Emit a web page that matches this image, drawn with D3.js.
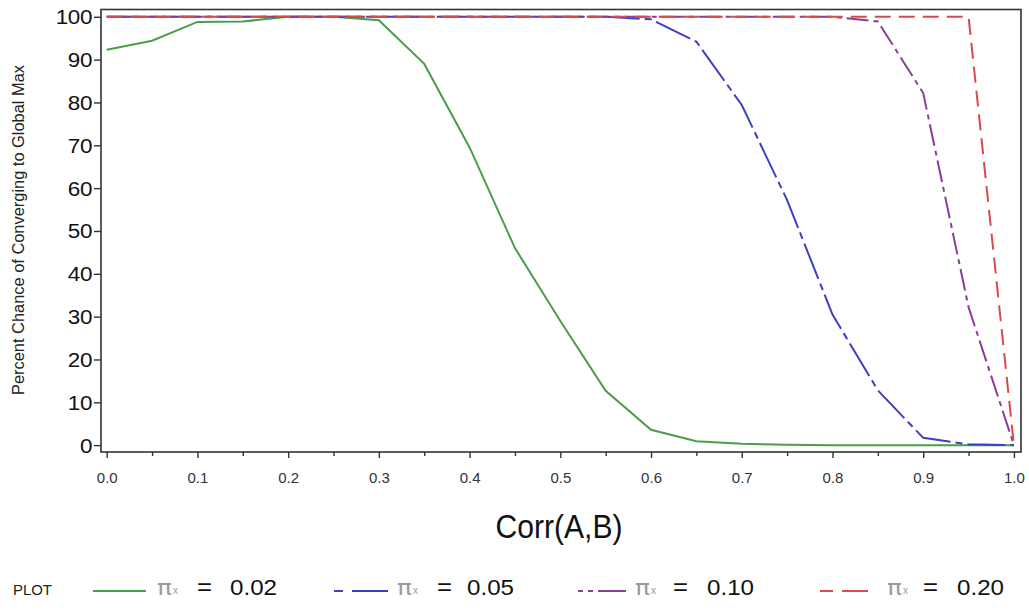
<!DOCTYPE html>
<html><head><meta charset="utf-8">
<script src="https://cdn.jsdelivr.net/npm/d3@7"></script>
<style>
body{margin:0;background:#fff;}
svg{display:block;font-family:"Liberation Sans",Arial,sans-serif;}
</style></head>
<body>
<svg id="c" width="1029" height="610"></svg>
<script>
const corr = [0,0.05,0.1,0.15,0.2,0.25,0.3,0.35,0.4,0.45,0.5,0.55,0.6,0.65,0.7,0.75,0.8,0.85,0.9,0.95,1.0];
const pi002 = [92.3,94.4,98.8,98.9,100,100,99.2,89,69.5,46,29,12.7,3.6,0.9,0.3,0.1,0,0,0,0,0];
const pi005 = [100,100,100,100,100,100,100,100,100,100,100,100,99.4,94.2,79.4,57.2,30.5,12.8,1.7,0.2,0];
const pi010 = [100,100,100,100,100,100,100,100,100,100,100,100,100,100,100,100,100,98.9,82.2,32.2,0];
const pi020 = [100,100,100,100,100,100,100,100,100,100,100,100,100,100,100,100,100,100,100,100,0];
const seriesLabels = ["0.02","0.05","0.10","0.20"];
const yTicks = [0,10,20,30,40,50,60,70,80,90,100];
const xTicks = [0,0.1,0.2,0.3,0.4,0.5,0.6,0.7,0.8,0.9,1.0];
const xMinor = [0.05,0.15,0.25,0.35,0.45,0.55,0.65,0.75,0.85,0.95];

const series = [
  {vals: pi002, color: "#4a9e4a", dash: null, legDash: null},
  {vals: pi005, color: "#3f3fbf", dash: "38,5,7,5", legDash: "9,9,36"},
  {vals: pi010, color: "#8a3e98", dash: "22,5,5,5", legDash: "5,5,5,5,28"},
  {vals: pi020, color: "#d94a4a", dash: "16,8", legDash: "13,9,26"}
];

function stretch(sel, f){
  sel.each(function(){
    const w = this.getComputedTextLength();
    d3.select(this).attr("textLength", w*f).attr("lengthAdjust","spacingAndGlyphs");
  });
}

const svg = d3.select("#c");
const L = 101, R = 1021, T = 9.5, B = 452;
const x = d3.scaleLinear().domain([-0.0063, 1.0078]).range([L, R]);
const y = d3.scaleLinear().domain([-1.6, 101.7]).range([B, T]);

const line = d3.line().x((d,i)=>x(corr[i])).y(d=>y(d));
series.forEach(s=>{
  svg.append("path").attr("d", line(s.vals)).attr("fill","none")
    .attr("stroke", s.color).attr("stroke-width", 2)
    .attr("stroke-dasharray", s.dash);
});

// frame
svg.append("rect").attr("x",L).attr("y",T).attr("width",R-L).attr("height",B-T)
  .attr("fill","none").attr("stroke","#333").attr("stroke-width",1.6);

// y axis
const yAxis = d3.axisLeft(y).tickValues(yTicks).tickSize(7).tickPadding(2).tickFormat(d3.format("d"));
const gy = svg.append("g").attr("transform",`translate(${L},0)`).call(yAxis);
gy.select(".domain").remove();
gy.selectAll(".tick line").attr("stroke","#333").attr("stroke-width",1.4);
gy.selectAll(".tick text").attr("font-size",19.5).attr("fill","#111")
  .attr("font-family","'Liberation Sans',Arial,sans-serif").attr("letter-spacing","-0.3")
  .attr("dy","0.36em");
stretch(gy.selectAll(".tick text"), 1.15);

// x axis
const xAxis = d3.axisBottom(x).tickValues(xTicks).tickSize(6).tickPadding(14).tickFormat(d3.format(".1f"));
const gx = svg.append("g").attr("transform",`translate(0,${B})`).call(xAxis);
gx.select(".domain").remove();
gx.selectAll(".tick line").attr("stroke","#333").attr("stroke-width",1.4);
gx.selectAll(".tick text").attr("font-size",15).attr("fill","#333")
  .attr("font-family","'Liberation Sans',Arial,sans-serif");
const xAxisMinor = d3.axisBottom(x).tickValues(xMinor).tickSize(4).tickFormat("");
const gxm = svg.append("g").attr("transform",`translate(0,${B})`).call(xAxisMinor);
gxm.select(".domain").remove();
gxm.selectAll(".tick line").attr("stroke","#333").attr("stroke-width",1.4);

// titles
svg.append("text").attr("x",559).attr("y",538).attr("text-anchor","middle")
  .attr("font-size",34).attr("fill","#111")
  .attr("textLength",127).attr("lengthAdjust","spacingAndGlyphs").text("Corr(A,B)");
svg.append("text").attr("transform","translate(24,230) rotate(-90)").attr("text-anchor","middle")
  .attr("font-size",16.5).attr("fill","#222")
  .attr("textLength",330).attr("lengthAdjust","spacingAndGlyphs")
  .text("Percent Chance of Converging to Global Max");

// legend
const ly = 591, tb = 595;
svg.append("text").attr("x",13).attr("y",tb).attr("font-size",14).attr("fill","#222")
  .attr("textLength",39).attr("lengthAdjust","spacingAndGlyphs").text("PLOT");
const lx = [93, 334, 578, 820];
const lw = [53, 54, 52, 48];
const piX = [157, 397, 635, 887];
const eqX = [197, 437, 673, 923];
const numX = [230, 467, 707, 957];
series.forEach((s,i)=>{
  const g = svg.append("g");
  g.append("line").attr("x1",lx[i]).attr("x2",lx[i]+lw[i]).attr("y1",ly).attr("y2",ly)
    .attr("stroke",s.color).attr("stroke-width",2)
    .attr("stroke-dasharray", s.legDash);
  g.append("text").attr("x",piX[i]).attr("y",tb).attr("font-size",21).attr("fill","#9a9a9a")
    .attr("font-family","'DejaVu Sans',sans-serif")
    .attr("textLength",15).attr("lengthAdjust","spacingAndGlyphs").text("π");
  g.append("text").attr("x",piX[i]+16).attr("y",tb-1).attr("font-size",10).attr("fill","#9a9a9a").text("x");
  g.append("text").attr("x",eqX[i]).attr("y",tb).attr("font-size",24).attr("fill","#111")
    .attr("textLength",15).attr("lengthAdjust","spacingAndGlyphs").text("=");
  g.append("text").attr("x",numX[i]).attr("y",tb).attr("font-size",22).attr("fill","#111")
    .attr("textLength",47).attr("lengthAdjust","spacingAndGlyphs").text(seriesLabels[i]);
});
</script>
</body></html>
